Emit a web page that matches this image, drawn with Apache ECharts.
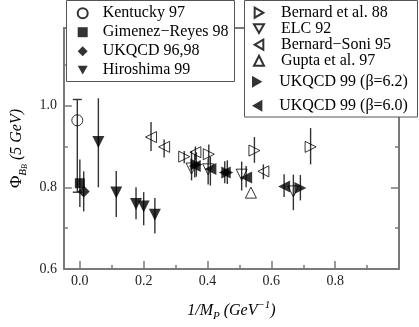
<!DOCTYPE html>
<html>
<head>
<meta charset="utf-8">
<script src="https://cdn.jsdelivr.net/npm/echarts@6/dist/echarts.min.js"></script>
<style>
  html, body { margin: 0; padding: 0; background: #fff; }
  #chart { width: 419px; height: 327px; }
</style>
</head>
<body>
<div id="chart"></div>
<script>
// every point: [1/M_P, Phi, bottom of error bar, top of error bar]
const kentucky97 = [[-0.008, 0.964, 0.788, 1.015]];
const gimenezReyes98 = [[0.0, 0.810, 0.752, 0.868]];
const ukqcd9698 = [[0.012, 0.790, 0.741, 0.839]];
const hiroshima99 = [
  [0.058, 0.911, 0.800, 1.018],
  [0.114, 0.787, 0.727, 0.840],
  [0.176, 0.759, 0.722, 0.800],
  [0.200, 0.753, 0.707, 0.788],
  [0.235, 0.733, 0.687, 0.774]
];
const bernard88 = [
  [0.327, 0.875, 0.859, 0.889],
  [0.404, 0.881, 0.860, 0.905],
  [0.547, 0.890, 0.860, 0.923],
  [0.723, 0.899, 0.856, 0.945]
];
const elc92 = [
  [0.350, 0.846, 0.817, 0.889],
  [0.402, 0.844, 0.807, 0.870],
  [0.507, 0.831, 0.792, 0.863],
  [0.669, 0.790, 0.744, 0.831]
];
const bernardSoni95 = [
  [0.223, 0.923, 0.889, 0.960],
  [0.264, 0.899, 0.873, 0.917],
  [0.362, 0.886, 0.866, 0.900],
  [0.575, 0.839, 0.820, 0.856]
];
const gupta97 = [[0.536, 0.787, 0.787, 0.787]];
const ukqcd99b62 = [
  [0.365, 0.856, 0.826, 0.886],
  [0.462, 0.836, 0.808, 0.866],
  [0.691, 0.798, 0.768, 0.830]
];
const ukqcd99b60 = [
  [0.360, 0.852, 0.824, 0.880],
  [0.409, 0.845, 0.804, 0.875],
  [0.454, 0.836, 0.810, 0.864],
  [0.521, 0.824, 0.800, 0.852],
  [0.640, 0.802, 0.776, 0.832]
];

const legendLeft = ['Kentucky 97', 'Gimenez\u2212Reyes 98', 'UKQCD 96,98', 'Hiroshima 99'];
const legendRightA = ['Bernard et al. 88', 'ELC 92', 'Bernard\u2212Soni 95', 'Gupta et al. 97'];
const legendRightB = ['UKQCD 99 (\u03b2=6.2)', 'UKQCD 99 (\u03b2=6.0)'];

const serif = 'Liberation Serif';

// legend icons do not pick up symbolRotate, so the pointing triangles get their own shapes
const triDown = 'path://M0,0L10,0L5,8.66Z';
const triRight = 'path://M0,0L8.66,5L0,10Z';
const triLeft = 'path://M8.66,0L0,5L8.66,10Z';

const groups = [
  { name: legendLeft[0], data: kentucky97, symbol: 'circle', size: 11, rot: 0, open: true, caps: true },
  { name: legendLeft[1], data: gimenezReyes98, symbol: 'rect', size: 10, rot: 0 },
  { name: legendLeft[2], data: ukqcd9698, symbol: 'diamond', size: 12, rot: 0 },
  { name: legendLeft[3], data: hiroshima99, symbol: 'triangle', size: 12, rot: 180, icon: triDown },
  { name: legendRightA[0], data: bernard88, symbol: 'triangle', size: 11, rot: -90, open: true, icon: triRight },
  { name: legendRightA[1], data: elc92, symbol: 'triangle', size: 11, rot: 180, open: true, icon: triDown },
  { name: legendRightA[2], data: bernardSoni95, symbol: 'triangle', size: 11, rot: 90, open: true, icon: triLeft },
  { name: legendRightA[3], data: gupta97, symbol: 'triangle', size: 11, rot: 0, open: true },
  { name: legendRightB[0], data: ukqcd99b62, symbol: 'triangle', size: 12, rot: -90, icon: triRight },
  { name: legendRightB[1], data: ukqcd99b60, symbol: 'triangle', size: 12, rot: 90, icon: triLeft }
];

const errorBars = groups.map(g => ({
  type: 'custom',
  name: 'err ' + g.name,
  data: g.data,
  z: 1,
  encode: { x: 0, y: [2, 3] },
  renderItem: (params, api) => {
    const x = api.value(0);
    const top = api.coord([x, api.value(3)]);
    const bot = api.coord([x, api.value(2)]);
    const st = { stroke: '#333', lineWidth: 1.4 };
    const kids = [{ type: 'line', shape: { x1: top[0], y1: top[1], x2: bot[0], y2: bot[1] }, style: st }];
    if (g.caps) {
      kids.push({ type: 'line', shape: { x1: top[0] - 4.5, y1: top[1], x2: top[0] + 4.5, y2: top[1] }, style: st });
      kids.push({ type: 'line', shape: { x1: bot[0] - 4.5, y1: bot[1], x2: bot[0] + 4.5, y2: bot[1] }, style: st });
    }
    return { type: 'group', children: kids };
  }
}));

const markers = groups.map(g => ({
  type: 'scatter',
  name: g.name,
  data: g.data.map(d => [d[0], d[1]]),
  symbol: g.symbol,
  symbolSize: g.size,
  symbolRotate: g.rot,
  z: 3,
  itemStyle: g.open
    ? { color: 'rgba(0,0,0,0)', borderColor: '#000', borderWidth: 1 }
    : { color: '#000', borderWidth: 0 }
}));

const axisGrey = '#7a7a7a';
const labelStyle = { fontFamily: serif, fontSize: 14, color: '#222' };

function legendBox(names, left, top, lineH, iconSize, textPad) {
  return {
    data: names.map(n => {
      const g = groups.find(s => s.name === n);
      return g.icon ? { name: n, icon: g.icon } : { name: n };
    }),
    left: left,
    top: top,
    orient: 'vertical',
    padding: 0,
    itemGap: 0,
    itemWidth: iconSize,
    itemHeight: iconSize,
    selectedMode: false,
    textStyle: { fontFamily: serif, fontSize: 16, color: '#000', lineHeight: lineH, padding: [0, 0, 0, textPad] }
  };
}

function plainAxis(extra) {
  return Object.assign({
    type: 'value',
    axisLine: { onZero: false, lineStyle: { color: axisGrey, width: 2 } },
    axisTick: { inside: true, length: 8, lineStyle: { color: axisGrey, width: 1.5 } },
    axisLabel: { show: false },
    splitLine: { show: false }
  }, extra);
}

const minorTick = { inside: true, length: 4, lineStyle: { color: axisGrey, width: 1.5 } };

const chart = echarts.init(document.getElementById('chart'));
chart.setOption({
  animation: false,
  backgroundColor: '#fff',
  grid: { left: 53, right: 20, top: 28, bottom: 54 },
  graphic: [
    { type: 'rect', z: 3, shape: { x: 66.5, y: 0.5, width: 168, height: 81 },
      style: { fill: '#fff', stroke: '#555', lineWidth: 1 } },
    { type: 'rect', z: 3, shape: { x: 244.5, y: 0.5, width: 173, height: 116.5 },
      style: { fill: '#fff', stroke: '#555', lineWidth: 1 } }
  ],
  legend: [
    legendBox(legendLeft, 76.7, 3.7, 19, 10, 10),
    legendBox(legendRightA, 253, 4.7, 16, 10, 12),
    legendBox(legendRightB, 252, 69.7, 24, 12, 11)
  ],
  xAxis: [
    plainAxis({
      position: 'bottom', min: -0.05, max: 1.0, splitNumber: 5,
      axisLabel: Object.assign({ margin: 5, formatter: v => (v < -0.001 || v > 0.999) ? '' : v.toFixed(1) }, labelStyle),
      name: '{it|1/M}{sub|P}{it| (GeV}{sup|\u22121}{it|)}',
      nameLocation: 'middle', nameGap: 31,
      nameTextStyle: {
        rich: {
          it: { fontFamily: serif, fontStyle: 'italic', fontSize: 16, color: '#000', lineHeight: 22 },
          sub: { fontFamily: serif, fontStyle: 'italic', fontSize: 11, color: '#000', lineHeight: 10, verticalAlign: 'bottom' },
          sup: { fontFamily: serif, fontStyle: 'italic', fontSize: 11, color: '#000', lineHeight: 10, verticalAlign: 'top' }
        }
      }
    }),
    plainAxis({ position: 'bottom', min: -0.05, max: 1.0, splitNumber: 10,
      axisLine: { show: false, onZero: false }, axisTick: minorTick }),
    plainAxis({ position: 'top', min: -0.05, max: 1.0, axisTick: { show: false } })
  ],
  yAxis: [
    plainAxis({
      position: 'left', min: 0.6, max: 1.19, interval: 0.2,
      axisLabel: Object.assign({ margin: 7, formatter: v => v > 1.05 ? '' : v.toFixed(1) }, labelStyle),
      name: '{phi|\u03a6}{sub|B}{ss|B}{it| (5 GeV)}',
      nameLocation: 'middle', nameGap: 27, nameRotate: 90,
      nameTextStyle: {
        rich: {
          phi: { fontFamily: serif, fontSize: 17, color: '#000', lineHeight: 24 },
          sub: { fontFamily: serif, fontStyle: 'italic', fontSize: 11, color: '#000', lineHeight: 14, verticalAlign: 'bottom' },
          ss: { fontFamily: serif, fontStyle: 'italic', fontSize: 8, color: '#000', lineHeight: 8, verticalAlign: 'bottom' },
          it: { fontFamily: serif, fontStyle: 'italic', fontSize: 16, color: '#000', lineHeight: 24 }
        }
      }
    }),
    plainAxis({ position: 'left', min: 0.6, max: 1.19, interval: 0.1,
      axisLine: { show: false, onZero: false }, axisTick: minorTick }),
    plainAxis({ position: 'right', min: 0.6, max: 1.19, interval: 0.2 }),
    plainAxis({ position: 'right', min: 0.6, max: 1.19, interval: 0.1,
      axisLine: { show: false, onZero: false }, axisTick: minorTick })
  ],
  series: errorBars.concat(markers)
});
</script>
</body>
</html>
